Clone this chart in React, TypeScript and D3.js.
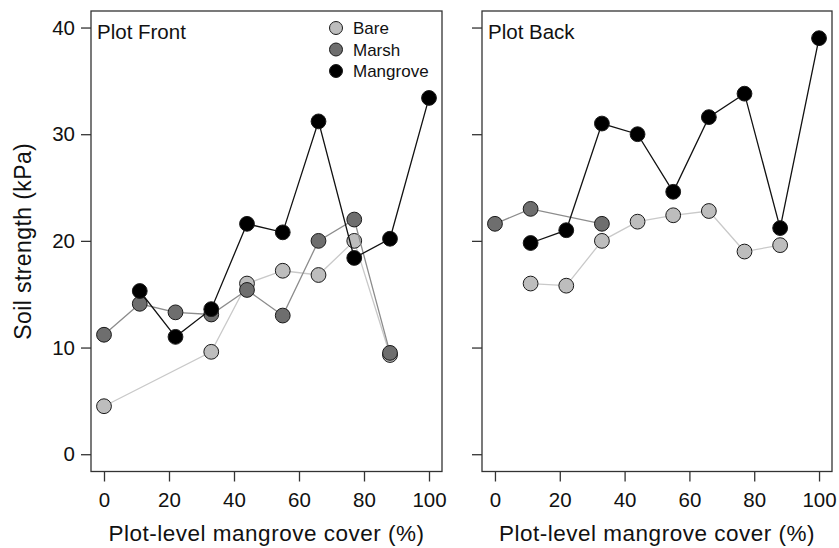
import React, { useEffect, useRef } from "react";
import * as d3 from "d3";

// mangrove cover levels (%)
const cover = [0, 11, 22, 33, 44, 55, 66, 77, 88, 100];

// Plot Front (null = no measurement)
const frontBare = [4.5, null, null, 9.6, 16.0, 17.2, 16.8, 20.0, 9.3, null];
const frontMarsh = [11.2, 14.1, 13.3, 13.1, 15.4, 13.0, 20.0, 22.0, 9.5, null];
const frontMangrove = [null, 15.3, 11.0, 13.6, 21.6, 20.8, 31.2, 18.4, 20.2, 33.4];

// Plot Back
const backBare = [null, 16.0, 15.8, 20.0, 21.8, 22.4, 22.8, 19.0, 19.6, null];
const backMarsh = [21.6, 23.0, null, 21.6, null, null, null, null, null, null];
const backMangrove = [null, 19.8, 21.0, 31.0, 30.0, 24.6, 31.6, 33.8, 21.2, 39.0];

const xTicks = [0, 20, 40, 60, 80, 100];
const yTicks = [0, 10, 20, 30, 40];
const seriesNames = ["Bare", "Marsh", "Mangrove"];
const fills = ["#bdbdbd", "#6e6e6e", "#000000"];
const lineColors = ["#c9c9c9", "#8c8c8c", "#111111"];

const panels = [
  { title: "Plot Front", series: [frontBare, frontMarsh, frontMangrove], left: 91, right: 442, labels: true },
  { title: "Plot Back", series: [backBare, backMarsh, backMangrove], left: 482, right: 832, labels: false },
];

const App = () => {
  const ref = useRef<SVGSVGElement>(null);

  useEffect(() => {
    const svg = d3.select(ref.current);
    svg.selectAll("*").remove();

    const top = 11;
    const bottom = 471.5;
    const font = "'Liberation Sans', Arial, Helvetica, sans-serif";
    const y = d3.scaleLinear().domain([-1.62, 41.55]).range([bottom, top]);

    panels.forEach((p) => {
      const x = d3.scaleLinear().domain([-4, 104]).range([p.left, p.right]);
      const g = svg.append("g");

      // y axis
      const yAxis = g
        .append("g")
        .attr("transform", `translate(${p.left},0)`)
        .call(d3.axisLeft(y).tickValues(yTicks).tickSize(10).tickSizeOuter(0).tickFormat(p.labels ? d3.format("d") : () => ""));
      yAxis.select(".domain").remove();
      yAxis.selectAll("line").attr("stroke", "#333").attr("stroke-width", 1.3);
      yAxis.selectAll("text").attr("font-family", font).attr("font-size", 20.5).attr("fill", "#111").attr("x", -16);

      // x axis
      const xAxis = g
        .append("g")
        .attr("transform", `translate(0,${bottom})`)
        .call(d3.axisBottom(x).tickValues(xTicks).tickSize(10).tickSizeOuter(0));
      xAxis.select(".domain").remove();
      xAxis.selectAll("line").attr("stroke", "#333").attr("stroke-width", 1.3);
      xAxis.selectAll("text").attr("font-family", font).attr("font-size", 20.5).attr("fill", "#111").attr("y", 21);

      // box
      g.append("rect")
        .attr("x", p.left)
        .attr("y", top)
        .attr("width", p.right - p.left)
        .attr("height", bottom - top)
        .attr("fill", "none")
        .attr("stroke", "#333")
        .attr("stroke-width", 1.3);

      g.append("text")
        .attr("x", p.left + 6)
        .attr("y", 39)
        .attr("font-family", font)
        .attr("font-size", 20.5)
        .attr("fill", "#111")
        .text(p.title);

      g.append("text")
        .attr("x", (x(0) + x(100)) / 2)
        .attr("y", 541)
        .attr("text-anchor", "middle")
        .attr("font-family", font)
        .attr("font-size", 22.5)
        .attr("letter-spacing", 0.5)
        .attr("fill", "#111")
        .text("Plot-level mangrove cover (%)");

      // series
      p.series.forEach((vals, si) => {
        const pts = cover
          .map((c, i) => ({ c, v: vals[i] }))
          .filter((d) => d.v !== null) as { c: number; v: number }[];
        const line = d3
          .line<{ c: number; v: number }>()
          .x((d) => x(d.c))
          .y((d) => y(d.v));
        g.append("path")
          .datum(pts)
          .attr("d", line)
          .attr("fill", "none")
          .attr("stroke", lineColors[si])
          .attr("stroke-width", 1.3);
        g.selectAll(`.pt${si}`)
          .data(pts)
          .enter()
          .append("circle")
          .attr("cx", (d) => x(d.c))
          .attr("cy", (d) => y(d.v))
          .attr("r", 7.4)
          .attr("fill", fills[si])
          .attr("stroke", "#1a1a1a")
          .attr("stroke-width", 1);
      });
    });

    // legend
    const leg = svg.append("g");
    seriesNames.forEach((name, i) => {
      const cy = 28 + i * 21.5;
      leg.append("circle")
        .attr("cx", 336)
        .attr("cy", cy)
        .attr("r", 6.5)
        .attr("fill", fills[i])
        .attr("stroke", "#1a1a1a")
        .attr("stroke-width", 1);
      leg.append("text")
        .attr("x", 353)
        .attr("y", cy + 6)
        .attr("font-family", font)
        .attr("font-size", 17)
        .attr("fill", "#111")
        .text(name);
    });

    // y title
    svg.append("text")
      .attr("transform", `translate(30.5,${(top + bottom) / 2}) rotate(-90)`)
      .attr("text-anchor", "middle")
      .attr("font-family", font)
      .attr("font-size", 23)
      .attr("letter-spacing", 0.4)
      .attr("fill", "#111")
      .text("Soil strength (kPa)");
  }, []);

  return (
    <svg
      ref={ref}
      width={839}
      height={548}
      style={{ position: "absolute", left: 0, top: 0, background: "#fff" }}
    />
  );
};

export default App;
